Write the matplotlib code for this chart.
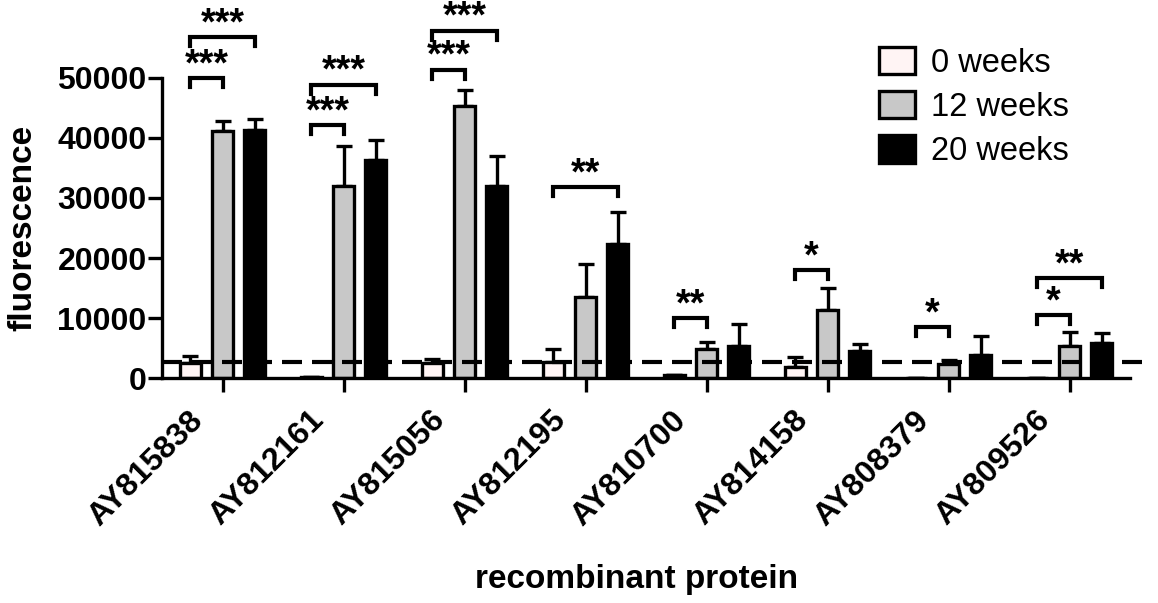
import numpy as np
import matplotlib
matplotlib.use("Agg")
import matplotlib.pyplot as plt
from matplotlib import transforms

plt.rcParams['font.family'] = ['Liberation Sans', 'DejaVu Sans']

proteins = ["AY815838", "AY812161", "AY815056", "AY812195",
            "AY810700", "AY814158", "AY808379", "AY809526"]
groups = ["0 weeks", "12 weeks", "20 weeks"]

# mean fluorescence and upper error (SEM) per group
w0 = [2500, 200, 2500, 2700, 500, 1800, 100, 0]
w0_err = [1200, 0, 700, 2200, 0, 1800, 0, 0]
w12 = [41200, 31900, 45200, 13600, 4800, 11400, 2400, 5300]
w12_err = [1600, 6700, 2700, 5400, 1200, 3600, 700, 2400]
w20 = [41300, 36300, 31900, 22400, 5400, 4500, 3900, 5800]
w20_err = [1800, 3400, 5100, 5300, 3600, 1200, 3200, 1700]

cutoff = 2700

# significance brackets: (protein index, from group, to group, height, label)
sig = [
    (0, 0, 1, 49900, "***"), (0, 0, 2, 56700, "***"),
    (1, 0, 1, 42100, "***"), (1, 0, 2, 48800, "***"),
    (2, 0, 1, 51300, "***"), (2, 0, 2, 57800, "***"),
    (3, 0, 2, 31800, "**"),
    (4, 0, 1, 10000, "**"),
    (5, 0, 1, 18000, "*"),
    (6, 0, 1, 8500, "*"),
    (7, 0, 2, 16600, "**"), (7, 0, 1, 10500, "*"),
]

colors = ["#FFF4F4", "#C8C8C8", "#000000"]
offsets = [-0.265, 0.0, 0.265]
width = 0.18
lw = 2.4

fig = plt.figure(figsize=(11.58, 6.03), dpi=100)
ax = fig.add_axes([162/1158, 1-378.3/603, (1130-162)/1158, 378.3/603])

x = np.arange(len(proteins))
for vals, errs, c, off, lab in zip([w0, w12, w20], [w0_err, w12_err, w20_err],
                                   colors, offsets, groups):
    ax.bar(x + off, vals, width, color=c, edgecolor="black", linewidth=lw,
           label=lab, zorder=2)
    ax.errorbar(x + off, vals, yerr=[np.zeros(len(vals)), errs], fmt="none",
                ecolor="black", elinewidth=lw, capsize=6, capthick=lw, zorder=1)

ax.plot([-0.5, 7.65], [cutoff, cutoff], color="black", lw=3,
        linestyle=(0, (4.8, 2.4)), clip_on=False, zorder=3)

leg = 1500
for g, a, b, yy, lab in sig:
    x1 = g + offsets[a]
    x2 = g + offsets[b]
    ax.plot([x1, x1, x2, x2], [yy - leg, yy, yy, yy - leg], color="black",
            lw=3, solid_joinstyle="miter", clip_on=False, zorder=4)
    ax.text((x1 + x2) / 2, yy + 500, lab, ha="center", va="baseline",
            fontsize=27, fontweight="bold", clip_on=False)

ax.set_xlim(-0.5, 7.5)
ax.set_ylim(0, 62900)
ax.set_yticks([0, 10000, 20000, 30000, 40000, 50000])
ax.set_yticklabels(["0", "10000", "20000", "30000", "40000", "50000"],
                   fontsize=23, fontweight="bold")
ax.set_xticks(x)
ax.set_xticklabels([])
shift = transforms.ScaledTranslation(-0.35, -0.27, fig.dpi_scale_trans)
for xi, name in zip(x, proteins):
    ax.text(xi, 0, name, rotation=45, ha="right", va="top",
            rotation_mode="anchor", fontsize=23, fontweight="bold",
            transform=ax.get_xaxis_transform() + shift, clip_on=False)
ax.spines["top"].set_visible(False)
ax.spines["right"].set_visible(False)
ax.spines["left"].set_bounds(0, 50000)
ax.spines["left"].set_linewidth(lw)
ax.spines["bottom"].set_linewidth(lw)
ax.tick_params(axis="both", length=10, width=lw, direction="out", pad=1)

ax.set_ylabel("fluorescence", fontsize=24, fontweight="bold")
ax.yaxis.set_label_coords(-0.128, 50000/2/62900)
ax.set_xlabel("recombinant protein", fontsize=24, fontweight="bold")
ax.xaxis.set_label_coords(0.49, -0.49)

ax.legend(loc="upper left", bbox_to_anchor=(879/1158, 1-47/603),
          bbox_transform=fig.transFigure, frameon=False, fontsize=23.5,
          handlelength=1.1, handleheight=0.9, handletextpad=0.5,
          labelspacing=0.38, borderpad=0, borderaxespad=0)

fig.savefig("out.png", dpi=100)
